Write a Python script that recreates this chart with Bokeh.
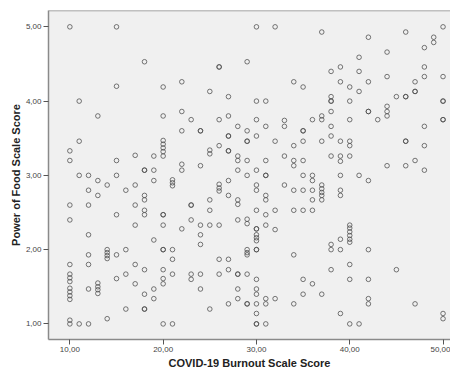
from bokeh.plotting import figure
from bokeh.models import FixedTicker, Span, ColumnDataSource, Range1d
from bokeh.embed import file_html
from bokeh.resources import INLINE

burnout_score = [
    10, 10, 10, 10, 10, 10, 10, 10, 10, 10, 10, 10, 10, 10, 10,
    11, 11, 11, 11,
    12, 12, 12, 12, 12, 12, 12, 12,
    13, 13, 13, 13, 13, 13, 13,
    14, 14, 14, 14, 14, 14,
    15, 15, 15, 15, 15, 15, 15,
    16, 16, 16, 16,
    17, 17, 17, 17, 17, 17,
    18, 18, 18, 18, 18, 18, 18, 18, 18, 18, 18,
    19, 19, 19, 19, 19, 19,
    20, 20, 20, 20, 20, 20, 20, 20, 20, 20, 20, 20, 20, 20, 20, 20,
    21, 21, 21, 21, 21, 21, 21,
    22, 22, 22, 22, 22, 22,
    23, 23, 23, 23, 23, 23,
    24, 24, 24, 24, 24, 24, 24, 24,
    25, 25, 25, 25, 25, 25, 25,
    26, 26, 26, 26, 26, 26, 26, 26, 26, 26,
    27, 27, 27, 27, 27, 27, 27, 27, 27, 27, 27,
    28, 28, 28, 28, 28, 28, 28, 28, 28, 28, 28,
    29, 29, 29, 29, 29, 29, 29, 29, 29, 29, 29, 29, 29, 29,
    30, 30, 30, 30, 30, 30, 30, 30, 30, 30, 30, 30, 30, 30, 30, 30, 30, 30, 30, 30, 30, 30,
    31, 31, 31, 31, 31, 31, 31, 31, 31, 31, 31, 31,
    32, 32, 32, 32, 32,
    33, 33, 33, 33,
    34, 34, 34, 34, 34, 34, 34, 34,
    35, 35, 35, 35, 35, 35, 35, 35, 35, 35,
    36, 36, 36, 36, 36, 36, 36,
    37, 37, 37, 37, 37, 37, 37, 37, 37, 37,
    38, 38, 38, 38, 38, 38, 38, 38, 38, 38, 38,
    39, 39, 39, 39, 39, 39, 39, 39, 39, 39, 39,
    40, 40, 40, 40, 40, 40, 40, 40, 40, 40, 40, 40, 40, 40, 40,
    41, 41, 41, 41, 41,
    42, 42, 42, 42, 42, 42, 42, 42, 42,
    43,
    44, 44, 44, 44, 44, 44,
    45, 45,
    46, 46, 46, 46, 46, 46,
    47, 47, 47, 47, 47,
    48, 48, 48, 48, 48, 48,
    49, 49,
    50, 50, 50, 50, 50, 50, 50, 50,
]

food_score = [
    5.00, 3.33, 3.20, 2.60, 2.40, 1.80, 1.67, 1.62, 1.57, 1.48, 1.43, 1.38, 1.33, 1.05, 1.00,
    4.00, 3.46, 3.00, 1.00,
    3.00, 2.80, 2.60, 2.20, 1.93, 1.80, 1.47, 1.00,
    3.80, 2.93, 2.73, 1.55, 1.50, 1.46, 1.41,
    2.87, 2.00, 1.96, 1.92, 1.88, 1.07,
    5.00, 4.20, 3.20, 3.00, 2.47, 1.93, 1.61,
    2.80, 2.00, 1.67, 1.20,
    3.27, 2.87, 2.60, 2.33, 1.80, 1.54,
    4.53, 3.07, 3.07, 2.73, 2.67, 2.53, 2.47, 1.73, 1.40, 1.20, 1.20,
    3.26, 3.07, 2.93, 2.13, 1.47, 1.34,
    4.19, 3.80, 3.47, 3.42, 3.37, 3.32, 3.26, 2.47, 2.47, 2.33, 2.00, 2.00, 1.73, 1.61, 1.54, 1.00,
    2.94, 2.90, 2.86, 2.00, 1.87, 1.67, 1.00,
    4.26, 3.86, 3.60, 3.15, 3.07, 2.28,
    3.75, 2.60, 2.60, 2.40, 1.67, 1.60,
    3.60, 3.60, 3.13, 2.33, 2.20, 2.07, 1.67, 1.47,
    4.13, 3.34, 3.29, 2.67, 2.53, 2.33, 1.20,
    4.46, 4.46, 3.75, 3.40, 2.88, 2.83, 2.79, 2.33, 1.87, 1.67,
    4.06, 3.80, 3.53, 3.53, 3.33, 3.33, 2.93, 2.73, 1.87, 1.73, 1.27,
    3.66, 3.26, 3.20, 3.07, 2.67, 2.61, 2.40, 1.67, 1.67, 1.47, 1.34,
    4.53, 3.60, 3.46, 3.46, 3.20, 3.00, 2.41, 2.35, 2.00, 1.96, 1.93, 1.67, 1.27, 1.27,
    5.00, 4.00, 3.75, 3.53, 3.07, 2.87, 2.80, 2.53, 2.28, 2.28, 2.20, 2.16, 2.12, 2.00, 2.00, 1.60, 1.47, 1.40, 1.27, 1.14, 1.00, 1.00,
    4.00, 3.66, 3.20, 3.00, 3.00, 2.73, 2.67, 2.47, 2.33, 1.34, 1.27, 1.00,
    5.00, 3.46, 2.53, 2.27, 1.34,
    3.74, 3.66, 3.26, 2.87,
    4.26, 3.40, 3.20, 3.13, 2.80, 2.53, 1.93, 1.27,
    4.19, 3.60, 3.60, 3.46, 3.20, 3.00, 2.80, 2.53, 1.60, 1.40,
    3.75, 3.00, 2.93, 2.80, 2.67, 2.53, 1.54,
    4.93, 3.80, 3.75, 3.46, 2.87, 2.82, 2.77, 2.73, 2.67, 1.40,
    4.40, 4.06, 4.00, 4.00, 3.86, 3.66, 3.53, 3.26, 2.07, 2.00, 1.73,
    4.46, 4.26, 3.46, 3.26, 3.19, 3.00, 2.80, 2.73, 2.14, 2.00, 1.14,
    4.19, 4.00, 3.75, 3.46, 3.40, 3.26, 2.33, 2.29, 2.24, 2.19, 2.14, 2.10, 1.80, 1.60, 1.00,
    4.59, 4.40, 4.13, 3.00, 1.00,
    4.86, 4.26, 3.86, 3.86, 2.93, 2.00, 1.60, 1.34, 1.27,
    3.75,
    4.66, 4.33, 3.93, 3.86, 3.80, 3.13,
    4.06, 1.73,
    4.93, 4.06, 4.06, 3.46, 3.46, 3.13,
    4.26, 4.13, 4.13, 3.20, 1.27,
    4.72, 4.46, 4.33, 3.66, 3.40, 3.07,
    4.86, 4.79,
    5.00, 4.33, 4.00, 4.00, 3.75, 3.75, 1.14, 1.07,
]

x_ticks = [10, 20, 30, 40, 50]
x_tick_labels = ["10,00", "20,00", "30,00", "40,00", "50,00"]
y_ticks = [1, 2, 3, 4, 5]
y_tick_labels = ["1,00", "2,00", "3,00", "4,00", "5,00"]
x_title = "COVID-19 Burnout Scale Score"
y_title = "Power of Food Scale Score"

src = ColumnDataSource(data=dict(x=burnout_score, y=food_score))

p = figure(width=450, height=371, output_backend="svg", toolbar_location=None,
           x_range=Range1d(7.71, 50.8), y_range=Range1d(0.79, 5.22),
           min_border_left=48, min_border_right=0, min_border_top=10, min_border_bottom=0)

p.background_fill_color = "#f0f0f0"
p.border_fill_color = "white"
p.outline_line_color = None
p.grid.visible = False

p.scatter(x="x", y="y", source=src, marker="circle", size=4.6,
          fill_color=None, line_color="#4a4a4a", line_alpha=0.75, line_width=1)

p.add_layout(Span(location=5.22, dimension="width", line_color="#8a8a8a", line_width=1.5))

p.xaxis.ticker = FixedTicker(ticks=x_ticks)
p.yaxis.ticker = FixedTicker(ticks=y_ticks)
p.xaxis.major_label_overrides = dict(zip(x_ticks, x_tick_labels))
p.yaxis.major_label_overrides = dict(zip(y_ticks, y_tick_labels))
p.xaxis.axis_label = x_title
p.yaxis.axis_label = y_title

for ax in (p.xaxis, p.yaxis):
    ax.axis_line_color = "#8a8a8a"
    ax.axis_line_width = 1.5
    ax.major_tick_line_color = "#555555"
    ax.major_tick_out = 5
    ax.major_tick_in = 0
    ax.minor_tick_line_color = None
    ax.major_label_text_font = "Liberation Sans"
    ax.major_label_text_font_size = "8px"
    ax.major_label_text_color = "#444444"
    ax.major_label_standoff = 2
    ax.axis_label_text_font = "Liberation Sans"
    ax.axis_label_text_font_size = "11px"
    ax.axis_label_text_font_style = "bold"
    ax.axis_label_text_color = "#222222"

p.xaxis.axis_label_standoff = 2
p.yaxis.axis_label_standoff = 1

open("out.html", "w").write(file_html(p, INLINE))
